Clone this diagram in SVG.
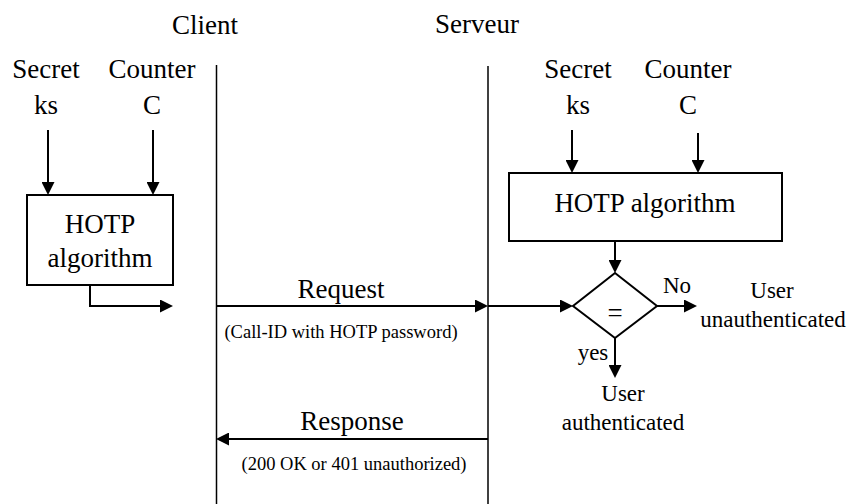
<svg xmlns="http://www.w3.org/2000/svg" width="849" height="504" viewBox="0 0 849 504">
  <defs>
    <marker id="arrow" markerUnits="userSpaceOnUse" markerWidth="13" markerHeight="13" refX="11" refY="6.5" orient="auto">
      <path d="M0,0 L13,6.5 L0,13 z" fill="#000"/>
    </marker>
    <style>
      text { font-family: "Liberation Serif", "Times New Roman", serif; fill: #000; text-anchor: middle; }
      .big { font-size: 27px; }
      .mid { font-size: 23px; }
      .small { font-size: 18.5px; }
      .box { fill: #fff; stroke: #000; stroke-width: 2; }
      .life { stroke: #000; stroke-width: 1.5; fill: none; }
      .wire { stroke: #000; stroke-width: 2; fill: none; marker-end: url(#arrow); }
      .plain { stroke: #000; stroke-width: 2; fill: none; }
    </style>
  </defs>
  <rect width="849" height="504" fill="#fff"/>

  <!-- lifelines and headers -->
  <g id="client-lane">
    <text class="big" x="205" y="34">Client</text>
    <line class="life" x1="216.5" y1="65" x2="216.5" y2="504"/>
  </g>
  <g id="server-lane">
    <text class="big" x="477" y="33">Serveur</text>
    <line class="life" x1="488" y1="66" x2="488" y2="504"/>
  </g>

  <!-- client side inputs -->
  <g id="client-secret">
    <text class="big" x="46" y="78">Secret</text>
    <text class="big" x="46" y="114">ks</text>
  </g>
  <g id="client-counter">
    <text class="big" x="152" y="78">Counter</text>
    <text class="big" x="152" y="114">C</text>
  </g>
  <g id="client-hotp">
    <rect class="box" x="27" y="195" width="146" height="90"/>
    <text class="big" x="100" y="233">HOTP</text>
    <text class="big" x="100" y="267">algorithm</text>
  </g>

  <!-- server side inputs -->
  <g id="server-secret">
    <text class="big" x="578" y="78">Secret</text>
    <text class="big" x="578" y="114">ks</text>
  </g>
  <g id="server-counter">
    <text class="big" x="688" y="78">Counter</text>
    <text class="big" x="688" y="114">C</text>
  </g>
  <g id="server-hotp">
    <rect class="box" x="509" y="173" width="273" height="68"/>
    <text class="big" x="645" y="212">HOTP algorithm</text>
  </g>

  <!-- comparison -->
  <g id="compare">
    <polygon class="box" points="615,273 657,306 615,338 573,306"/>
    <text class="big" x="615" y="322">=</text>
  </g>
  <g id="result-no">
    <text class="mid" x="772" y="298">User</text>
    <text class="mid" x="773" y="327">unauthenticated</text>
  </g>
  <g id="result-yes">
    <text class="mid" x="623" y="401">User</text>
    <text class="mid" x="623" y="430">authenticated</text>
  </g>

  <!-- message labels -->
  <g id="request-label">
    <text class="big" x="341" y="298">Request</text>
    <text class="small" x="341" y="338">(Call-ID with HOTP password)</text>
  </g>
  <g id="response-label">
    <text class="big" x="352" y="430">Response</text>
    <text class="small" x="354" y="470">(200 OK or 401 unauthorized)</text>
  </g>

  <!-- connectors -->
  <g id="connectors">
    <line class="wire" x1="48" y1="130" x2="48" y2="193"/>
    <line class="wire" x1="153" y1="130" x2="153" y2="193"/>
    <polyline class="wire" points="90,285 90,306 171,306"/>
    <line class="wire" x1="216.5" y1="306" x2="486" y2="306"/>
    <line class="wire" x1="488" y1="306" x2="571" y2="306"/>
    <line class="wire" x1="572" y1="130" x2="572" y2="171"/>
    <line class="wire" x1="698" y1="133" x2="698" y2="171"/>
    <line class="wire" x1="615" y1="241" x2="615" y2="271"/>
    <line class="wire" x1="657" y1="306" x2="695" y2="306"/>
    <line class="wire" x1="615" y1="338" x2="615" y2="376"/>
    <line class="wire" x1="488" y1="439" x2="218" y2="439"/>
    <text class="mid" x="677" y="293">No</text>
    <text class="mid" x="593" y="360">yes</text>
  </g>
</svg>
